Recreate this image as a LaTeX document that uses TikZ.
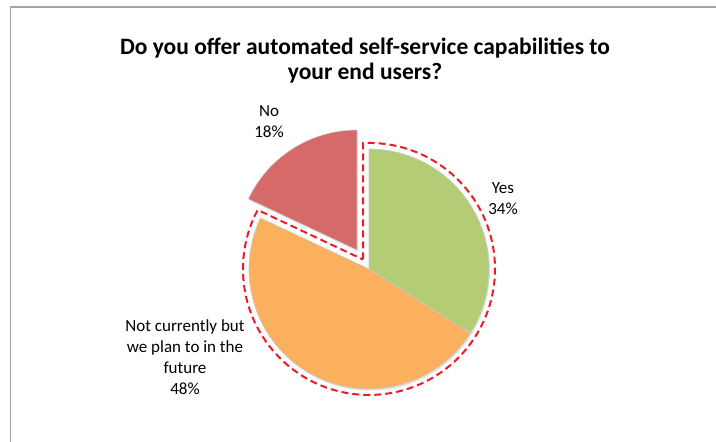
\documentclass[tikz,border=0pt]{standalone}
\usepackage{fontspec}
\setmainfont{Carlito}
\usetikzlibrary{shadows}
\definecolor{yesgreen}{RGB}{180,204,116}
\definecolor{futorange}{RGB}{250,176,92}
\definecolor{nored}{RGB}{214,106,104}
\definecolor{ringred}{RGB}{236,28,36}
\definecolor{framegray}{RGB}{165,165,165}
\begin{document}
\begin{tikzpicture}[x=1pt,y=1pt,
	slice/.style={draw=black!20,line width=.6pt,drop shadow={opacity=.25,shadow xshift=1pt,shadow yshift=-1.5pt}},
	lbl/.style={align=center,font=\fontsize{17}{21}\selectfont,inner sep=0pt}]
		\useasboundingbox (0,0) rectangle (716,442);
		\draw[framegray,line width=1.5pt] (10.5,-2) -- (10.5,435) -- (718,435);
		\node[font=\fontsize{23.5}{25}\selectfont\bfseries,align=center] (title) at (365,381) {Do you offer automated self-service capabilities to\\your end users?};
		% slices
		\filldraw[slice,fill=yesgreen] (369,173) -- (369,293) arc (90:-32.4:120) -- cycle;
		\filldraw[slice,fill=futorange] (369,173) -- (470.3,108.7) arc (-32.4:-205.2:120) -- cycle;
		\filldraw[slice,fill=nored] (357,192) -- (248.4,243.1) arc (154.8:90:120) -- cycle;
		% dashed ring
		\draw[ringred,line width=2pt,dash pattern=on 7pt off 4pt] (363,182.5) -- (363,298.9) arc (92.73:-207.93:126) -- cycle;
		% labels
		\node[lbl] (yes) at (503,243) {Yes\\34\%};
		\node[lbl] (no) at (269,320) {No\\18\%};
		\node[lbl] (future) at (185,85) {Not currently but\\we plan to in the\\future\\48\%};
\end{tikzpicture}
\end{document}
